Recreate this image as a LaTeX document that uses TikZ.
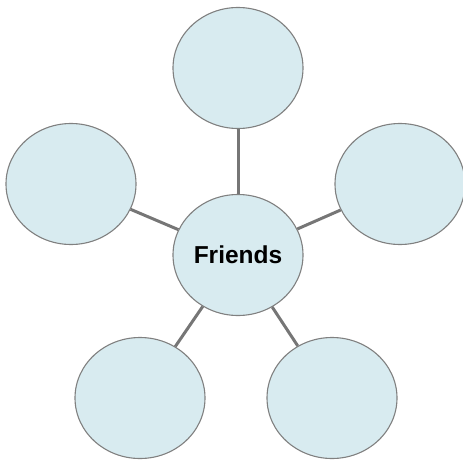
\documentclass[tikz,border=0pt]{standalone}
\usepackage{fontspec}
\setmainfont{Liberation Sans}
\usepackage{xcolor}
\usetikzlibrary{shapes.geometric}
\definecolor{bubble}{RGB}{216,235,240}
\definecolor{rim}{RGB}{128,128,128}
\definecolor{spoke}{RGB}{118,118,118}

\begin{document}
\begin{tikzpicture}[x=1pt, y=-1pt,
    bub/.style={ellipse, draw=rim, fill=bubble, line width=1.1pt, minimum width=130pt, minimum height=121pt, inner sep=0pt},
    link/.style={draw=spoke, line width=3pt}]
    \useasboundingbox (0,0) rectangle (463,460);
    \node[bub, font=\fontsize{24.5}{29}\selectfont\bfseries] (hub) at (238,255) {Friends};
    \node[bub] (fTop) at (238,68) {};
    \node[bub] (fLeft) at (71,184) {};
    \node[bub] (fRight) at (400,184) {};
    \node[bub] (fLowL) at (140,398) {};
    \node[bub] (fLowR) at (332,398) {};
    \draw[link] (hub) -- (fTop); \draw[link] (hub) -- (fLeft); \draw[link] (hub) -- (fRight);
    \draw[link] (hub) -- (fLowL); \draw[link] (hub) -- (fLowR);
  \end{tikzpicture}
\end{document}
